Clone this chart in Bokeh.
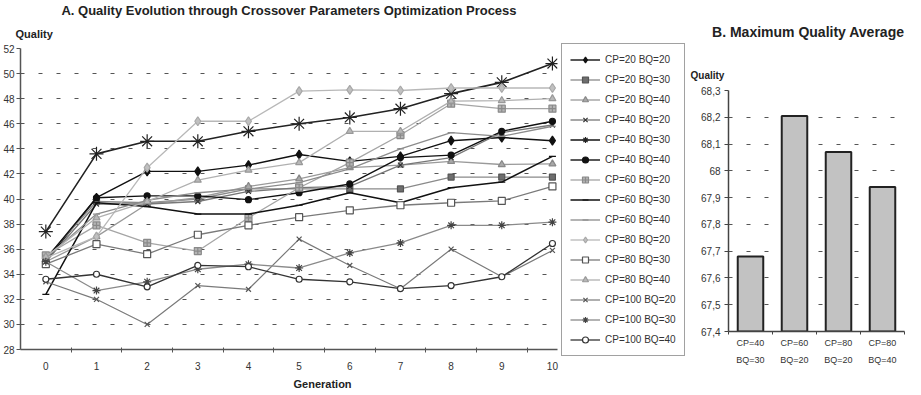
from bokeh.plotting import figure
from bokeh.models import Range1d, FixedTicker, LinearAxis, Legend, LegendItem, Title
from bokeh.layouts import row
from bokeh.embed import file_html
from bokeh.resources import INLINE

FONT = "Liberation Sans"

# ---------------- data: chart A ----------------
generations = [0, 1, 2, 3, 4, 5, 6, 7, 8, 9, 10]
gen_tick_labels = ["0", "1", "2", "3", "4", "5", "6", "7", "8", "9", "10"]
quality_ticks = [28, 30, 32, 34, 36, 38, 40, 42, 44, 46, 48, 50, 52]
quality_tick_labels = ["28", "30", "32", "34", "36", "38", "40", "42", "44", "46", "48", "50", "52"]

cp20_bq20 = [35.0, 40.1, 42.2, 42.2, 42.7, 43.55, 43.0, 43.4, 44.65, 44.9, 44.65]
cp20_bq30 = [35.3, 39.8, 39.7, 40.0, 40.8, 40.8, 40.8, 40.8, 41.75, 41.75, 41.75]
cp20_bq40 = [35.0, 37.0, 39.6, 40.1, 41.0, 41.6, 42.5, 42.7, 43.0, 42.75, 42.8]
cp40_bq20 = [35.0, 39.6, 39.6, 39.8, 40.6, 40.9, 41.0, 42.7, 43.3, 45.3, 45.9]
cp40_bq30 = [37.4, 43.6, 44.6, 44.6, 45.4, 46.0, 46.5, 47.2, 48.4, 49.3, 50.8]
cp40_bq40 = [35.2, 40.1, 40.25, 40.25, 39.95, 40.5, 41.2, 43.3, 43.5, 45.4, 46.2]
cp60_bq20 = [35.5, 37.9, 36.5, 35.85, 38.5, 40.9, 42.9, 45.1, 47.6, 47.2, 47.2]
cp60_bq30 = [32.4, 39.7, 39.4, 38.8, 38.8, 39.5, 40.5, 39.7, 40.9, 41.35, 43.4]
cp60_bq40 = [35.3, 38.8, 39.9, 40.5, 40.8, 41.3, 42.4, 44.0, 45.3, 45.0, 45.8]
cp80_bq20 = [35.3, 37.0, 42.5, 46.2, 46.2, 48.6, 48.7, 48.65, 48.85, 48.85, 48.85]
cp80_bq30 = [34.8, 36.4, 35.6, 37.15, 37.9, 38.55, 39.1, 39.5, 39.7, 39.85, 41.0]
cp80_bq40 = [35.4, 38.5, 39.8, 41.5, 42.3, 42.9, 45.4, 45.4, 47.8, 47.85, 48.0]
cp100_bq20 = [33.4, 32.0, 30.0, 33.1, 32.8, 36.8, 34.7, 32.85, 36.0, 33.8, 35.9]
cp100_bq30 = [35.0, 32.7, 33.4, 34.4, 34.8, 34.5, 35.7, 36.5, 37.9, 37.9, 38.15]
cp100_bq40 = [33.6, 34.0, 33.0, 34.7, 34.6, 33.6, 33.4, 32.85, 33.1, 33.8, 36.45]

series_labels = ["CP=20 BQ=20", "CP=20 BQ=30", "CP=20 BQ=40", "CP=40 BQ=20", "CP=40 BQ=30",
                 "CP=40 BQ=40", "CP=60 BQ=20", "CP=60 BQ=30", "CP=60 BQ=40", "CP=80 BQ=20",
                 "CP=80 BQ=30", "CP=80 BQ=40", "CP=100 BQ=20", "CP=100 BQ=30", "CP=100 BQ=40"]
series_values = [cp20_bq20, cp20_bq30, cp20_bq40, cp40_bq20, cp40_bq30, cp40_bq40,
                 cp60_bq20, cp60_bq30, cp60_bq40, cp80_bq20, cp80_bq30, cp80_bq40,
                 cp100_bq20, cp100_bq30, cp100_bq40]

# ---------------- data: chart B ----------------
bar_cp = ["CP=40", "CP=60", "CP=80", "CP=80"]
bar_bq = ["BQ=30", "BQ=20", "BQ=20", "BQ=40"]
bar_values = [67.68, 68.205, 68.07, 67.94]
bar_y_ticks = [67.4, 67.5, 67.6, 67.7, 67.8, 67.9, 68.0, 68.1, 68.2, 68.3]
bar_y_tick_labels = ["67,4", "67,5", "67,6", "67,7", "67,8", "67,9", "68", "68,1", "68,2", "68,3"]

# ---------------- styles ----------------
styles = [
    dict(line="#111111", lw=1.4, marker="diamond", size=9, fill="#111111", mline="#111111"),
    dict(line="#8a8a8a", lw=1.3, marker="square", size=6, fill="#6e6e6e", mline="#555555"),
    dict(line="#9a9a9a", lw=1.3, marker="triangle", size=7, fill="#a8a8a8", mline="#888888"),
    dict(line="#777777", lw=1.3, marker="x", size=7, fill="#333333", mline="#333333"),
    dict(line="#222222", lw=1.6, marker="asterisk", size=14, fill="#222222", mline="#222222"),
    dict(line="#111111", lw=1.4, marker="circle", size=6, fill="#111111", mline="#111111"),
    dict(line="#a5a5a5", lw=1.3, marker="square_cross", size=7, fill="#b5b5b5", mline="#8a8a8a"),
    dict(line="#111111", lw=1.5, marker="dash", size=7, fill="#111111", mline="#111111"),
    dict(line="#8c8c8c", lw=1.3, marker="dash", size=7, fill="#8c8c8c", mline="#8c8c8c"),
    dict(line="#b8b8b8", lw=1.3, marker="diamond", size=9, fill="#c0c0c0", mline="#a8a8a8"),
    dict(line="#7a7a7a", lw=1.3, marker="square", size=7, fill="#ffffff", mline="#555555"),
    dict(line="#b0b0b0", lw=1.3, marker="triangle", size=7, fill="#b8b8b8", mline="#999999"),
    dict(line="#7a7a7a", lw=1.2, marker="x", size=7, fill="#555555", mline="#555555"),
    dict(line="#8a8a8a", lw=1.3, marker="asterisk", size=8, fill="#444444", mline="#444444"),
    dict(line="#333333", lw=1.3, marker="circle", size=6, fill="#ffffff", mline="#333333"),
]

H = 393

# ---------------- chart A ----------------
p1 = figure(width=561, height=H, title=None,
            x_range=Range1d(-0.5, 10.1), y_range=Range1d(28, 52),
            output_backend="svg", toolbar_location=None, frame_align=False,
            min_border_left=17, min_border_top=47, min_border_bottom=H - 353, min_border_right=4,
            outline_line_color=None, background_fill_color="white", border_fill_color="white")

for vals, st in zip(series_values, styles):
    p1.line(generations, vals, line_color=st["line"], line_width=st["lw"])
    p1.scatter(generations, vals, marker=st["marker"], size=st["size"],
               fill_color=st["fill"], line_color=st["mline"], line_width=1.2)

p1.xaxis.ticker = FixedTicker(ticks=generations,
                              minor_ticks=[g + 0.5 for g in generations[:-1]])
p1.xaxis.major_label_overrides = dict(zip(generations, gen_tick_labels))
p1.xaxis.major_tick_out = 0
p1.xaxis.major_tick_in = 0
p1.xaxis.minor_tick_out = 3
p1.xaxis.minor_tick_in = 2
p1.xaxis.minor_tick_line_color = "#555555"
p1.xaxis.major_label_standoff = 9
p1.yaxis.ticker = FixedTicker(ticks=quality_ticks, minor_ticks=[])
p1.yaxis.major_label_overrides = dict(zip(quality_ticks, quality_tick_labels))
p1.yaxis.major_tick_out = 4
p1.yaxis.major_tick_in = 0
p1.yaxis.major_label_standoff = 2
for ax in (p1.xaxis, p1.yaxis):
    ax.axis_line_color = "#555555"
    ax.axis_line_width = 1.5
    ax.major_tick_line_color = "#555555"
    ax.major_label_text_font = FONT
    ax.major_label_text_font_size = "10px"
    ax.major_label_text_color = "#333333"
p1.xgrid.visible = False
p1.ygrid.grid_line_color = "#555555"
p1.ygrid.grid_line_dash = "4 14"
p1.ygrid.grid_line_width = 1.2

p1.add_layout(Title(text="Quality", align="left", offset=-5, standoff=17,
                    text_font=FONT, text_font_style="bold", text_font_size="11px",
                    text_color="#222222"), "above")
p1.add_layout(Title(text="A. Quality Evolution through Crossover Parameters Optimization Process",
                    align="center", standoff=0, text_font=FONT, text_font_style="bold",
                    text_font_size="13px", text_color="#222222"), "above")
p1.add_layout(Title(text="Generation", align="left", offset=273, standoff=7,
                    text_font=FONT, text_font_style="bold", text_font_size="11px",
                    text_color="#222222"), "below")

# ---------------- legend (own canvas; same series, drawn outside its view) ----------------
pL = figure(width=126, height=H, title=None, x_range=Range1d(-100, -99), y_range=Range1d(-100, -99),
            output_backend="svg", toolbar_location=None, frame_align=False,
            x_axis_location=None, y_axis_location=None,
            min_border_left=0, min_border_right=0, min_border_top=43, min_border_bottom=H - 356,
            outline_line_color=None, background_fill_color="white", border_fill_color="white")
pL.xgrid.visible = False
pL.ygrid.grid_line_color = None
items = []
for lab, vals, st in zip(series_labels, series_values, styles):
    lr = pL.line(generations, vals, line_color=st["line"], line_width=st["lw"])
    sr = pL.scatter(generations, vals, marker=st["marker"], size=st["size"],
                    fill_color=st["fill"], line_color=st["mline"], line_width=1.2)
    items.append(LegendItem(label=lab, renderers=[lr, sr]))
legend = Legend(items=items, location="top_left", margin=0, padding=8, spacing=5,
                label_height=15, glyph_height=15, glyph_width=30, label_standoff=5,
                label_text_font=FONT, label_text_font_size="10px", label_text_color="#333333",
                border_line_color="#444444", border_line_width=1.2,
                background_fill_color="white", background_fill_alpha=1.0)
pL.add_layout(legend, "center")

# ---------------- chart B ----------------
p2 = figure(width=218, height=H, title=None,
            x_range=Range1d(0, len(bar_values)), y_range=Range1d(bar_y_ticks[0], bar_y_ticks[-1]),
            output_backend="svg", toolbar_location=None, frame_align=False,
            min_border_left=41, min_border_top=90, min_border_bottom=H - 331, min_border_right=1,
            outline_line_color=None, background_fill_color="white", border_fill_color="white")

centers = [i + 0.5 for i in range(len(bar_values))]
bounds = list(range(len(bar_values) + 1))
p2.vbar(x=centers, top=bar_values, bottom=bar_y_ticks[0], width=0.58,
        fill_color="#c2c2c2", line_color="#222222", line_width=2)

p2.xaxis.ticker = FixedTicker(ticks=centers, minor_ticks=bounds)
p2.xaxis.major_label_overrides = dict(zip(centers, bar_cp))
p2.xaxis.major_tick_out = 0
p2.xaxis.major_tick_in = 0
p2.xaxis.minor_tick_out = 3
p2.xaxis.minor_tick_in = 0
p2.xaxis.minor_tick_line_color = "#444444"
p2.xaxis.major_label_standoff = 3
p2.yaxis.ticker = FixedTicker(ticks=bar_y_ticks, minor_ticks=[])
p2.yaxis.major_label_overrides = dict(zip(bar_y_ticks, bar_y_tick_labels))
p2.yaxis.major_tick_out = 4
p2.yaxis.major_tick_in = 0
p2.yaxis.major_label_standoff = 4
for ax in (p2.xaxis, p2.yaxis):
    ax.axis_line_color = "#444444"
    ax.axis_line_width = 1.5
    ax.major_tick_line_color = "#444444"
    ax.major_label_text_font = FONT
    ax.major_label_text_color = "#333333"
p2.xaxis.major_label_text_font_size = "9px"
p2.yaxis.major_label_text_font_size = "10px"

bq_axis = LinearAxis(ticker=FixedTicker(ticks=centers, minor_ticks=[]),
                     major_label_overrides=dict(zip(centers, bar_bq)),
                     axis_line_color=None, major_tick_line_color=None, minor_tick_line_color=None,
                     major_tick_out=0, major_tick_in=0,
                     major_label_standoff=4, major_label_text_font=FONT,
                     major_label_text_font_size="9px", major_label_text_color="#333333")
p2.add_layout(bq_axis, "below")

p2.xgrid.visible = False
p2.ygrid.grid_line_color = "#555555"
p2.ygrid.grid_line_dash = "4 14"
p2.ygrid.grid_line_width = 1.2

p2.add_layout(Title(text="Quality", align="left", offset=-38, standoff=20,
                    text_font=FONT, text_font_style="bold", text_font_size="10px",
                    text_color="#222222"), "above")
p2.add_layout(Title(text="B. Maximum Quality Average", align="right", offset=0, standoff=32,
                    vertical_align="top",
                    text_font=FONT, text_font_style="bold", text_font_size="14px",
                    text_color="#222222"), "above")

layout = row(p1, pL, p2)
open("out.html", "w").write(file_html(layout, INLINE))
